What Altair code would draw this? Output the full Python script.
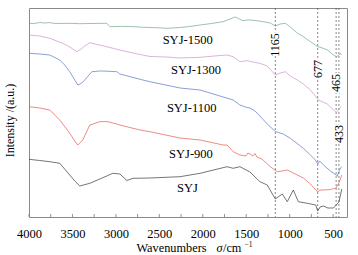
import altair as alt
import pandas as pd

# ---- data ----
wn_1500 = [4000,3940,3877,3819,3761,3727,3650,3531,3420,3300,3200,3104,3069,2950,2839,2700,2608,2500,2412,2262,
           2150,2031,1900,1766,1685,1627,1592,1538,1500,1457,1377,1304,1223,1165,1108,1050,992,912,842,761,
           677,623,565,496,461,433,415,404]
i_1500 = [193.7,193.5,194.5,194,194.5,193.7,193.5,193.7,193.3,193.5,193.6,193.7,190.3,190.6,190.5,189.8,189.5,189.2,188.7,189.5,
          190.5,192,193.5,195.3,198,200,198.5,196.3,196.8,197,196.3,195.3,194,191,193,193.7,190,184,180.3,175.3,
          170.3,169,167,162,160.3,162,163.7,162]

wn_1300 = [4000,3877,3761,3611,3531,3450,3415,3358,3300,3242,3185,2954,2804,2608,2412,2262,2031,1800,1720,1650,
           1573,1492,1423,1342,1258,1165,1108,1050,992,912,842,761,677,669,565,496,461,433,404]
i_1300 = [182,181,178.7,173.7,170,165.3,167,171,174.3,173,172,167,164,160.5,160,159,159.7,161.5,162,160.3,
          155.3,156.3,155,153.7,151,142,144,145.3,141,137,133,127,118,117,113,107,104.5,108,110.5]

wn_1100 = [4000,3877,3761,3646,3589,3531,3473,3438,3392,3358,3277,3185,3150,2989,2954,2689,2608,2262,2031,1650,
           1573,1492,1457,1400,1342,1258,1165,1073,992,842,761,704,677,654,611,531,465,450,427,404]
i_1100 = [163.7,163,162,157,152,145.3,137,132,134,137,145.3,146,146,145.3,143,137,135.3,129,127,117,
          112,109.5,109,106,101,93,85.5,83,78.7,68.7,62,57,53,56,52,46,42,41,47,50.3]

wn_900 = [4000,3877,3761,3646,3531,3473,3438,3381,3300,3185,3104,2989,2954,2723,2608,2262,2031,1766,1720,1650,
          1573,1504,1480,1457,1423,1400,1377,1319,1223,1142,1085,1027,935,842,761,677,654,611,531,465,433,400]
i_900 = [110.3,109,107,97,83.7,76,72,77,92,95.3,95.5,93,92,87,85.3,79,77,72,72,65.3,
         62,61,64,63,61,63.5,60,58,50.3,45.3,46,47,43,39,33,25,27,27,27.5,29,34,42]

wn_syj = [4000,3877,3761,3646,3531,3473,3415,3300,3185,3035,2954,2873,2804,2608,2262,2031,1720,1650,1573,1457,
          1342,1258,1165,1085,1027,958,900,796,700,677,650,611,560,496,465,433,400]
i_syj = [57.7,56.5,55.3,53.7,42,36,31,33.7,38,43.7,43,36.5,38.7,39,40.3,43.7,50.3,48.7,50.3,45,
         35.3,32,18,23,15.3,27,15.3,13.7,12,6,10,11,9,9,12,15,28]

series_names = ["SYJ-1500", "SYJ-1300", "SYJ-1100", "SYJ-900", "SYJ"]
series_colors = ["#74a886", "#cc92cc", "#5a76c8", "#e45a52", "#3a3a3a"]

label_wn = [2174, 2078, 2128, 2136, 2176]
label_i = [177, 147, 109, 63, 29]

peak_wn = [1165, 677, 465, 433]
peak_text = ["1165", "677", "465", "433"]
peak_label_i = [172, 148, 134, 83]
peak_dx = [-1.5, 0, 0, 3.5]

tick_values = [4000, 3750, 3500, 3250, 3000, 2750, 2500, 2250, 2000, 1750, 1500, 1250, 1000, 750, 500]
label_values = [4000, 3500, 3000, 2500, 2000, 1500, 1000, 500]

# ---- build tables ----
rows = []
for name, wns, vals in [("SYJ-1500", wn_1500, i_1500), ("SYJ-1300", wn_1300, i_1300),
                        ("SYJ-1100", wn_1100, i_1100), ("SYJ-900", wn_900, i_900), ("SYJ", wn_syj, i_syj)]:
    for k, (w, v) in enumerate(zip(wns, vals)):
        rows.append({"series": name, "wn": w, "v": v, "idx": k})
df = pd.DataFrame(rows)

labels_df = pd.DataFrame({"series": series_names, "wn": label_wn, "v": label_i})
peaks_df = pd.DataFrame({"wn": peak_wn, "text": peak_text, "v": peak_label_i, "dx": peak_dx})
ticks_df = pd.DataFrame({"wn": tick_values})

W, H = 318, 209
FONT = "Liberation Serif"

xscale = alt.Scale(domain=[340, 4000], reverse=True, nice=False, zero=False)
yscale = alt.Scale(domain=[0, 209], nice=False, zero=False)

x_axis = alt.Axis(values=label_values, format="d", labelFontSize=12.5, labelColor="black",
                  ticks=False, domain=False, grid=False, labelPadding=10, title=None,
                  labelFlush=False)
y_axis = alt.Axis(labels=False, ticks=False, domain=False, grid=False,
                  title="Intensity /(a.u.)", titleFontSize=12, titleFontWeight="normal",
                  titleColor="black", titleX=-20, titleY=112, titleAnchor="middle", titleBaseline="middle",
                  titleAngle=270)

color_enc = alt.Color("series:N", scale=alt.Scale(domain=series_names, range=series_colors), legend=None)

vlines = alt.Chart(peaks_df).mark_rule(strokeDash=[2, 2], color="#555555", strokeWidth=0.7).encode(
    x=alt.X("wn:Q", scale=xscale, axis=x_axis),
)

lines = alt.Chart(df).mark_line(strokeWidth=0.7).encode(
    x=alt.X("wn:Q", scale=xscale, axis=x_axis),
    y=alt.Y("v:Q", scale=yscale, axis=y_axis),
    color=color_enc,
    detail="series:N",
    order="idx:Q",
)

curve_labels = alt.Chart(labels_df).mark_text(fontSize=12.5, fontWeight="normal", color="black").encode(
    x=alt.X("wn:Q", scale=xscale),
    y=alt.Y("v:Q", scale=yscale),
    text="series:N",
)

peak_halo = alt.Chart(peaks_df).mark_text(fontSize=12, fontWeight="normal", color="white", stroke="white",
                                          strokeWidth=3, angle=270,
                                          align="center", baseline="middle").encode(
    x=alt.X("wn:Q", scale=xscale),
    y=alt.Y("v:Q", scale=yscale),
    xOffset=alt.XOffset("dx:Q", scale=None),
    text="text:N",
)

peak_labels = alt.Chart(peaks_df).mark_text(fontSize=12, fontWeight="normal", color="black", angle=270,
                                            align="center", baseline="middle").encode(
    x=alt.X("wn:Q", scale=xscale),
    y=alt.Y("v:Q", scale=yscale),
    xOffset=alt.XOffset("dx:Q", scale=None),
    text="text:N",
)

inner_ticks = alt.Chart(ticks_df).mark_rule(color="#777777", strokeWidth=0.8).encode(
    x=alt.X("wn:Q", scale=xscale),
    y=alt.value(H),
    y2=alt.value(H - 3),
)

title_df = pd.DataFrame({"t": ["Wavenumbers"]})
t1 = alt.Chart(title_df).mark_text(fontSize=12.3, fontWeight="normal", color="black", align="left",
                                   baseline="alphabetic").encode(
    x=alt.value(107.5), y=alt.value(243.5), text="t:N")
t2 = alt.Chart(pd.DataFrame({"t": ["σ"]})).mark_text(fontSize=12.3, fontStyle="italic", fontWeight="normal",
                                                      color="black", align="left",
                                                      baseline="alphabetic").encode(
    x=alt.value(187.5), y=alt.value(243.5), text="t:N")
t3 = alt.Chart(pd.DataFrame({"t": ["/cm"]})).mark_text(fontSize=12.3, fontWeight="normal", color="black",
                                                        align="left", baseline="alphabetic").encode(
    x=alt.value(194), y=alt.value(243.5), text="t:N")
t4 = alt.Chart(pd.DataFrame({"t": ["−1"]})).mark_text(fontSize=7.5, fontWeight="normal", color="black",
                                                       align="left", baseline="alphabetic").encode(
    x=alt.value(215.5), y=alt.value(238.5), text="t:N")

chart = alt.layer(vlines, lines, curve_labels, peak_halo, peak_labels, inner_ticks, t1, t2, t3, t4).properties(
    width=W, height=H,
    autosize=alt.AutoSizeParams(type="none"),
    padding={"left": 29, "top": 8, "right": 11, "bottom": 38},
).configure(background="white", font=FONT).configure_view(stroke="#8a8a8a", strokeWidth=1)

chart.save("out.html", embed_options={"renderer": "svg", "actions": False})
